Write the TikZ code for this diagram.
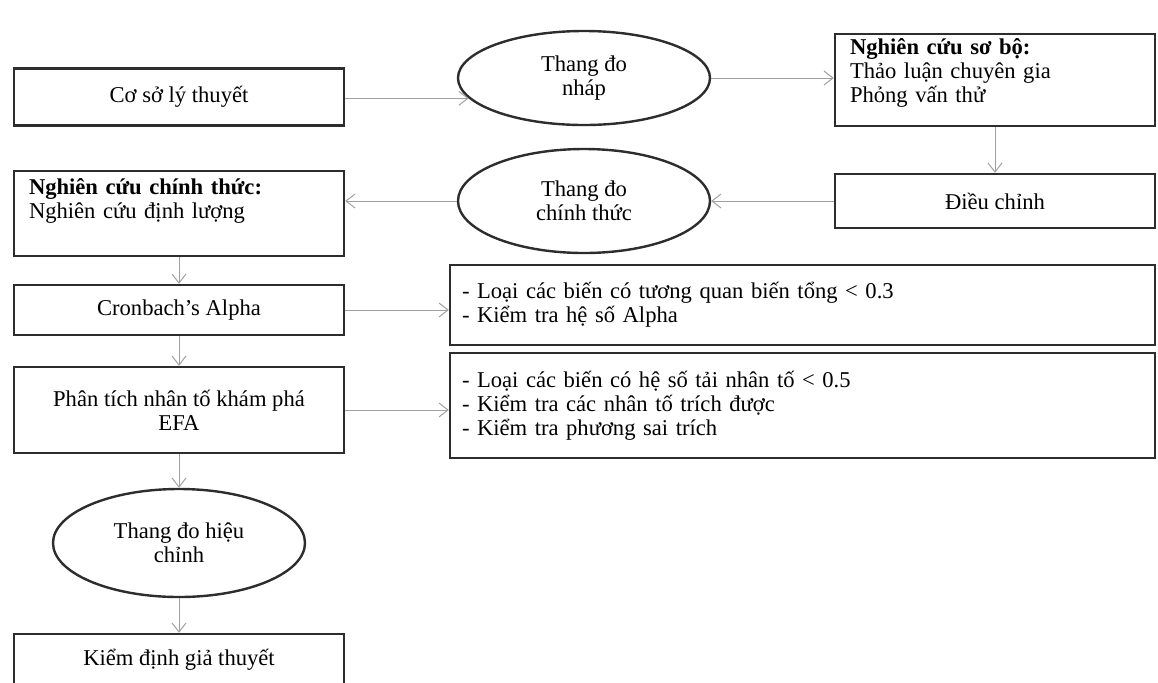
\documentclass[tikz,border=0pt]{standalone}
\usepackage{fontspec}
\setmainfont{Liberation Serif}
\usepackage{tikz}
\usetikzlibrary{shapes.geometric, arrows.meta, positioning, calc}
\definecolor{boxline}{RGB}{45,45,45}
\definecolor{arrowgray}{RGB}{160,160,160}
\tikzset{
  stepbox/.style={rectangle, draw=boxline, line width=1.2pt, align=center,
    inner sep=0pt, minimum width=165pt, font=\fontsize{11.3}{12}\selectfont},
  scalenode/.style={ellipse, draw=boxline, line width=1.2pt, align=center,
    inner sep=0pt, minimum width=126pt, minimum height=52pt,
    font=\fontsize{11.3}{12}\selectfont},
  notebox/.style={rectangle, draw=boxline, line width=1.2pt, align=left,
    inner xsep=6pt, inner ysep=0pt, text width=340.5pt,
    font=\fontsize{11.3}{12}\selectfont},
  arrow/.style={-{Straight Barb[length=4.5pt, width=7pt]}, color=arrowgray,
    line width=0.5pt}
}

\begin{document}
\begin{tikzpicture}[x=0.5pt, y=-0.5pt]
  \useasboundingbox (0,0) rectangle (1158,682);
  \clip (0,0) rectangle (1158,682);

  % Top row
  \node[stepbox, minimum height=28.5pt] (theory) at (179,97) {Cơ sở lý thuyết};
  \node[scalenode, minimum height=47pt] (draftscale) at (584,78) {Thang đo\\nháp};
  \node[stepbox, anchor=north, align=left, minimum width=160pt,
    text width=145pt, inner xsep=7.5pt, text height=10pt, text depth=36pt]
    (pilot) at (995,33)
    {\textbf{Nghiên cứu sơ bộ:}\\Thảo luận chuyên gia\\Phỏng vấn thử};
  \draw[arrow] (theory.east |- draftscale.190) -- (draftscale.190);
  \draw[arrow] (draftscale.east) -- (draftscale.east -| pilot.west);

  % Second row
  \node[stepbox, minimum width=160pt, minimum height=27pt] (adjust) at (995,201) {Điều chỉnh};
  \node[scalenode] (officialscale) at (584,201) {Thang đo\\chính thức};
  \node[stepbox, anchor=north, align=left, text width=150pt, inner xsep=7.5pt,
    text height=11.5pt, text depth=31pt]
    (mainstudy) at (179,170)
    {\textbf{Nghiên cứu chính thức:}\\Nghiên cứu định lượng};
  \draw[arrow] (pilot.south) -- (adjust.north);
  \draw[arrow] (adjust.west) -- (adjust.west -| officialscale.east);
  \draw[arrow] (officialscale.west) -- (officialscale.west -| mainstudy.east);

  % Analysis steps
  \node[stepbox, minimum height=25pt] (cronbach) at (179,310) {Cronbach's Alpha};
  \node[notebox, minimum height=40pt] (alphanote) at (802.5,305)
    {- Loại các biến có tương quan biến tổng < 0.3\\- Kiểm tra hệ số Alpha};
  \node[stepbox, minimum height=43pt] (efa) at (179,410) {Phân tích nhân tố khám phá\\EFA};
  \node[notebox, minimum height=52.5pt] (efanote) at (802.5,405.5)
    {- Loại các biến có hệ số tải nhân tố < 0.5\\- Kiểm tra các nhân tố trích được\\- Kiểm tra phương sai trích};
  \draw[arrow] (mainstudy.south) -- (cronbach.north);
  \draw[arrow] (cronbach.east) -- (cronbach.east -| alphanote.west);
  \draw[arrow] (cronbach.south) -- (efa.north);
  \draw[arrow] (efa.east) -- (efa.east -| efanote.west);

  % Result
  \node[scalenode, minimum height=54pt] (revisedscale) at (179,543) {Thang đo hiệu\\chỉnh};
  \node[stepbox, minimum height=26pt] (hypotest) at (179,660) {Kiểm định giả thuyết};
  \draw[arrow] (efa.south) -- (revisedscale.north);
  \draw[arrow] (revisedscale.south) -- (hypotest.north);
\end{tikzpicture}
\end{document}
